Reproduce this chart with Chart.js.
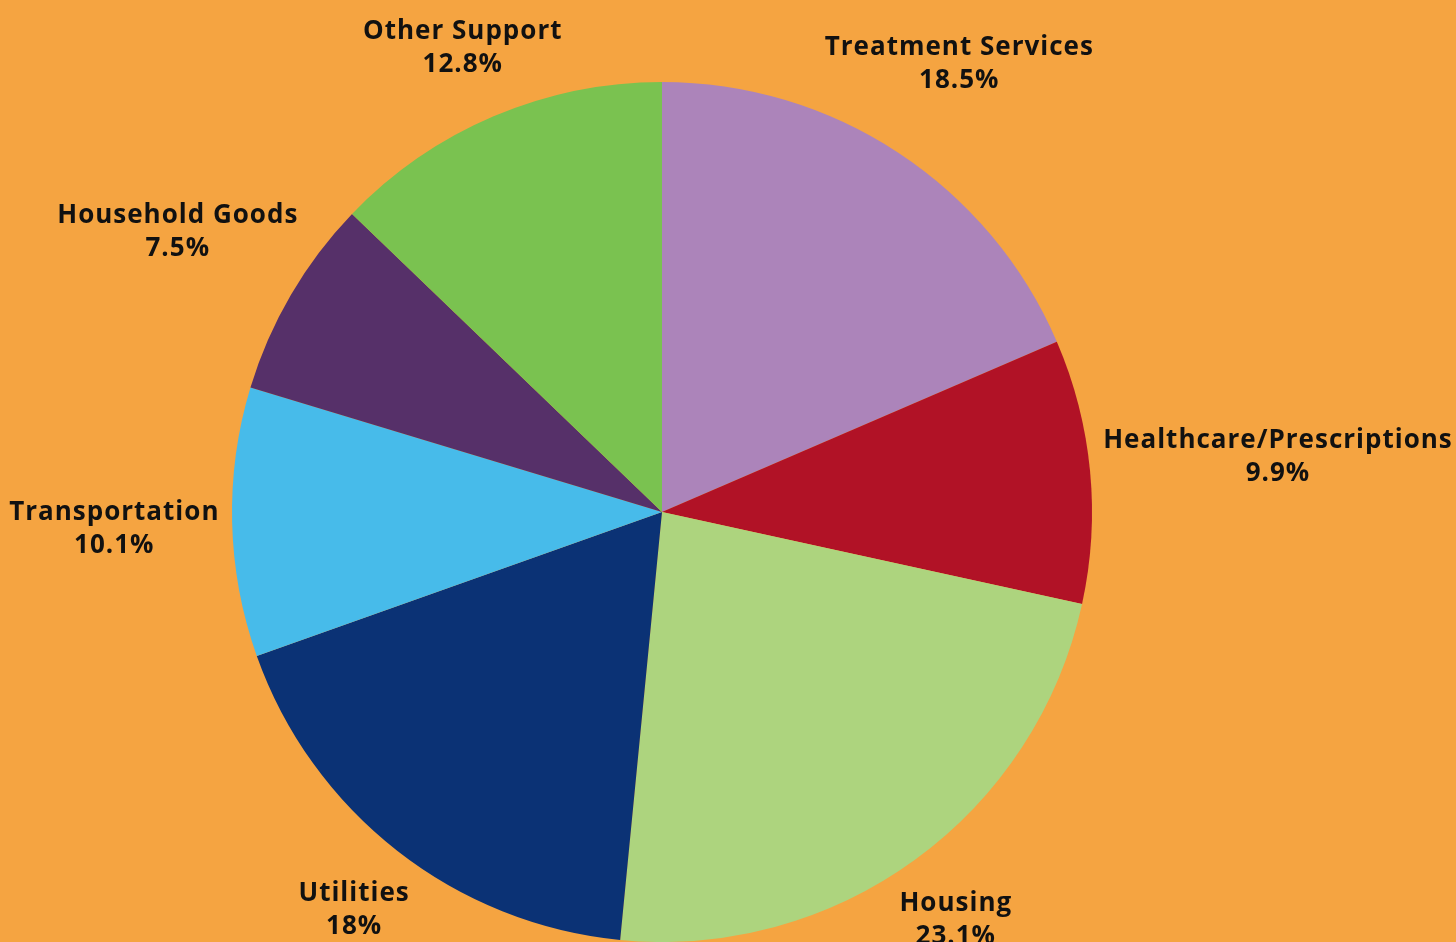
<!DOCTYPE html>
<html>
<head>
<meta charset="utf-8">
<script src="https://cdn.jsdelivr.net/npm/chart.js@4"></script>
<style>
html,body{margin:0;padding:0;background:#F5A441;overflow:hidden;}
#wrap{width:1456px;height:942px;position:relative;}
</style>
</head>
<body>
<div id="wrap"><canvas id="c" width="1456" height="942"></canvas></div>
<script>
const categories = ["Treatment Services","Healthcare/Prescriptions","Housing","Utilities","Transportation","Household Goods","Other Support"];
const shares = [18.5, 9.9, 23.1, 18, 10.1, 7.5, 12.8];
const sliceColors = ["#AC84BA","#B11226","#ADD47E","#0B3275","#47BBEA","#563069","#7AC250"];

const bgPlugin = {
  id:'bg',
  beforeDraw(chart){
    const ctx = chart.ctx;
    ctx.save();
    ctx.fillStyle = '#F5A441';
    ctx.fillRect(0,0,chart.width,chart.height);
    ctx.restore();
  }
};

const labelPlugin = {
  id:'outLabels',
  afterDraw(chart){
    const ctx = chart.ctx;
    const meta = chart.getDatasetMeta(0);
    const font = 'bold 26px "Open Sans", sans-serif';
    const lineH = 33;
    ctx.save();
    ctx.font = font;
    if ('letterSpacing' in ctx) ctx.letterSpacing = '1px';
    ctx.fillStyle = '#111111';
    ctx.textAlign = 'center';
    ctx.textBaseline = 'middle';
    meta.data.forEach((arc, i) => {
      const p = arc.getProps(['x','y','startAngle','endAngle','outerRadius'], true);
      const mid = (p.startAngle + p.endAngle) / 2;
      const l1 = categories[i];
      const l2 = shares[i] + '%';
      const halfW = Math.max(ctx.measureText(l1).width, ctx.measureText(l2).width) / 2;
      const halfH = 30;
      const r = p.outerRadius + 12 + Math.abs(Math.cos(mid)) * halfW + Math.abs(Math.sin(mid)) * halfH;
      const cx = p.x + r * Math.cos(mid);
      const cy = p.y + r * Math.sin(mid) + 4;
      ctx.fillText(l1, cx, cy - lineH/2);
      ctx.fillText(l2, cx, cy + lineH/2);
    });
    ctx.restore();
  }
};

new Chart(document.getElementById('c'), {
  type:'pie',
  data:{
    labels: categories,
    datasets:[{
      data: shares,
      backgroundColor: sliceColors,
      borderWidth: 0
    }]
  },
  options:{
    responsive:false,
    animation:false,
    layout:{padding:{top:82,bottom:0,left:232,right:364}},
    plugins:{legend:{display:false},tooltip:{enabled:false}}
  },
  plugins:[bgPlugin,labelPlugin]
});
</script>
</body>
</html>
